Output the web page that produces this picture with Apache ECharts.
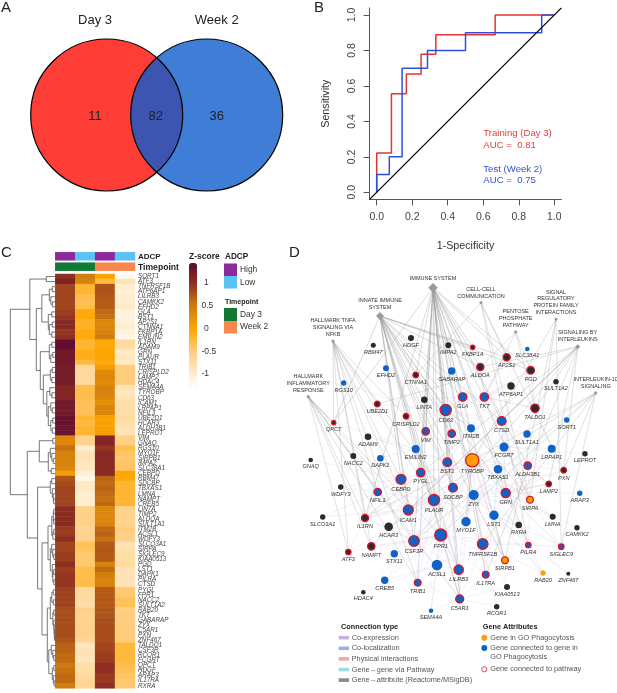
<!DOCTYPE html>
<html><head><meta charset="utf-8">
<style>html,body{margin:0;padding:0;background:#fff}#c{width:617px;height:693px}</style>
<script src="https://cdn.jsdelivr.net/npm/echarts@6/dist/echarts.min.js"></script>
</head><body><div id="c"></div>
<script>
/* ---------- A: Venn ---------- */
const vennSets = ['Day 3', 'Week 2'];
const vennCounts = [11, 82, 36];
/* ---------- B: ROC ---------- */
const rocTicks = [0, 0.2, 0.4, 0.6, 0.8, 1];
const rocRedX = [0, 0, 0.083, 0.083, 0.167, 0.167, 0.25, 0.25, 0.333, 0.333, 0.667, 0.667, 1];
const rocRedY = [0, 0.222, 0.222, 0.556, 0.556, 0.667, 0.667, 0.778, 0.778, 0.889, 0.889, 1, 1];
const rocBlueX = [0, 0, 0.071, 0.071, 0.143, 0.143, 0.286, 0.286, 0.5, 0.5, 0.929, 0.929, 1];
const rocBlueY = [0, 0.1, 0.1, 0.2, 0.2, 0.7, 0.7, 0.8, 0.8, 0.9, 0.9, 1, 1];
/* ---------- C: heatmap ---------- */
const adcpGroups = ['High', 'Low', 'High', 'Low'];
const timeGroups = ['Day 3', 'Day 3', 'Week 2', 'Week 2'];
const heatGenes = ['SORT1','ATF3','TNFRSF1B','ATP6AP1','LILRB3','CAMKK2','EFHD2','GLA','BST1','AP2S1','CTNNA1','FKBP1A','EMILIN2','IL1RN','ADAM9','GRN','PLAUR','STX11','TRIB1','CRISPLD2','LAMP2','HDAC4','SEMA4A','TYROBP','CD63','ICAM1','LRPAP1','NFIL3','UBE2D1','HCAR3','ALDH3B1','LEPROT','VIM','GNAQ','RGS10','MYO1F','SIRPB1','IMPA2','SLC38A1','CEBPD','RBM47','SDCBP','TBXAS1','LMNA','NAMPT','CREB5','LIN7A','TIMP2','ALDOA','SULT1A1','ITM2B','ACSL1','WDFY3','SLCO3A1','SIRPA','SIGLEC9','KIAA0513','PGD','LST1','DAPK1','PILRA','CTSD','PYGL','FPR1','NACC2','SULT1A2','RAB20','TKT','GABARAP','ZYX','C5AR1','PXN','ZNF467','TALDO1','CSF3R','RCOR1','FCGRT','QPCT','HDGF','ARAP3','IL17RA','RXRA'];
const zDay3High = [1,1.15,.85,.85,.85,.85,.85,.9,.95,1.05,1.05,.95,1,1.4,1.4,1.25,1.25,1.25,1.2,1.2,1.2,1.2,1.1,1.1,1.1,1.25,1.25,1.25,1.35,1.35,1.3,1.3,.35,.35,.55,.4,.4,.4,.35,.1,.75,.8,.85,.85,.85,.85,1.03,1.03,1.03,1.03,.9,.9,1,.85,.85,.9,.9,1.02,.9,.95,.95,.95,.88,.88,.88,.88,.8,.8,.8,.8,.8,.8,.75,.65,.65,.6,.6,.5,.55,.6,.6,.45];
const zDay3Low = [.45,.4,-.2,-.2,-.3,-.35,-.3,-.05,-.02,-.15,-.15,-.05,-.05,-.2,-.2,-.1,-.1,-.25,-.7,-.7,-.7,-.7,-.3,-.3,-.3,-.35,-.35,-.35,-.2,-.25,-.2,-.2,-.6,-.6,-1,-.85,-.85,-.9,-.9,-1.05,-1.15,-.95,-.95,-1,-1,-1,-.55,-.55,-.55,-.55,-.65,-.6,-.6,-.35,-.4,-.45,-.45,-.45,-.3,-.3,-.3,-.3,-.7,-.7,-.7,-.75,-.55,-.6,-.6,-.6,-.6,-.6,-.65,-.9,-.85,-.85,-.9,-.75,-.75,-.7,-.65,-.65];
const zWeek2High = [0,-.25,.75,.75,.72,.7,.7,.6,.55,.35,.35,.4,.45,-.05,-.05,0,0,-.05,.1,.3,.35,.3,.4,.4,.35,.25,.4,.35,.05,.05,.05,.1,1.1,1.1,.95,1.05,1.05,1.05,1.05,1.05,.65,.6,.65,.6,.55,.6,.35,.35,.35,.4,.6,.65,.55,.7,.72,.7,.7,.4,.6,.45,.4,.4,.7,.7,.72,.72,.75,.75,.8,.8,.8,.8,.8,.85,.85,.9,.9,1,1,.92,.92,1];
const zWeek2Low = [-1.2,-.85,-1,-1.05,-1,-1,-.95,-1.1,-1.1,-1.05,-1,-1.1,-1.15,-.7,-.75,-.95,-.9,-.95,-.5,-.5,-.5,-.5,-.85,-.9,-.85,-.75,-.75,-.75,-.7,-.75,-.85,-.85,-.55,-.55,-.3,-.4,-.45,-.4,-.4,0,-.05,-.2,-.2,-.2,-.2,-.2,-.6,-.6,-.6,-.6,-.5,-.55,-.55,-.85,-.8,-.75,-.75,-.7,-.85,-.85,-.85,-.85,-.45,-.45,-.35,-.35,-.55,-.5,-.5,-.5,-.5,-.5,-.5,-.25,-.25,-.25,-.25,-.3,-.35,-.4,-.45,-.45];
const zScaleStops = [-1.28, -1, -.5, 0, .5, 1, 1.43];
const zScaleColors = ['#ffffff', '#ffedcf', '#ffcd7c', '#ffa500', '#cc7a10', '#8e2e22', '#5e0b30'];
const zScaleTicks = [1, .5, 0, -.5, -1];
/* dendrogram: [merge height, child, child]; 1 = next row */
const dendroTree = [45,
 [25.5,[9,1,1],
  [19,
   [13.5,[6,[3,1,1],[4.5,1,[3,1,1]]],[7,[3.5,1,1],[6,[3,1,1],[3.5,1,1]]]],
   [15,[6,[3.5,1,1],[4.5,[2.5,1,1],1]],
    [12,[5,[3,1,1],[3.5,1,1]],
     [8.5,[5.5,1,[3.5,1,1]],[7,[4.5,1,[3,1,1]],[4.5,[2.5,1,1],[3,1,1]]]]]]]],
 [28,
  [16,[2.5,1,1],[7,[5,1,[3.5,1,[2,1,1]]],[4,1,1]]],
  [17.7,[5,[3.5,1,1],[3,1,[2,1,[1.5,1,1]]]],
   [13.3,
    [7.3,[3.5,[2,[1.5,1,1],[1.5,1,1]],[2.5,[1.5,1,1],1]],
         [5,[3.5,1,[2.5,1,[1.5,1,1]]],[3,1,[2.5,[1.5,1,1],[1.5,1,1]]]]],
    [8,[5,[3.5,[2,1,1],[2,1,1]],[2.5,[1.5,1,1],[1.5,1,[1.2,1,[1,1,[.8,1,1]]]]]],
       [6.5,[4,1,[2.5,1,[1.5,1,1]]],[3,[1.5,1,1],[2,1,[1.2,1,1]]]]]]]]];
/* ---------- D: network ---------- */
const attrNames = ['IMMUNE SYSTEM','INNATE IMMUNE\nSYSTEM','CELL-CELL\nCOMMUNICATION','SIGNAL\nREGULATORY\nPROTEIN FAMILY\nINTERACTIONS','PENTOSE\nPHOSPHATE\nPATHWAY','SIGNALING BY\nINTERLEUKINS','HALLMARK TNFA\nSIGNALING VIA\nNFKB','INTERLEUKIN-10\nSIGNALING','HALLMARK\nINFLAMMATORY\nRESPONSE'];
const attrLayoutX = [433,380,481,556,515.7,577.7,333,595.7,308.3];
const attrLayoutY = [287.7,316,302.7,319.3,332,346.7,341.3,393,396.7];
const attrWeight = [9.5,8,3.8,3.8,3.8,5,4,3.8,4];
const attrMembers = [
 'FKBP1A AP2S1 ALDOA GLA PGD CD63 CTSD VIM TIMP2 TYROBP BST1 PYGL SDCBP GRN PLAUR FPR1 CSF3R TNFRSF1B PILRA LILRB3 IL17RA C5AR1 SIRPA SIRPB1 ALDH3B1 QPCT CTNNA1 IL1RN TRIB1',
 'FKBP1A AP2S1 ALDOA GLA CD63 CTSD VIM TIMP2 TYROBP BST1 PYGL QPCT GRN PLAUR FPR1 CSF3R C5AR1 LILRB3 SIRPA SIRPB1 PGD ICAM1 SDCBP CEBPD',
 'AP2S1 CTNNA1 SIRPA PILRA PXN',
 'SIRPA SIRPB1 TYROBP SIGLEC9',
 'TKT TALDO1 PGD ALDOA',
 'IL1RN CSF3R IL17RA TALDO1 ALDOA UBE2D1 PXN LAMP2 CTSD ICAM1 NAMPT',
 'ATF3 NAMPT IL1RN CEBPD PLAUR ICAM1 NFIL3 TRIB1 TNFRSF1B UBE2D1 CRISPLD2 QPCT',
 'IL1RN CSF3R FPR1 ICAM1 PXN SIGLEC9 TNFRSF1B',
 'ATF3 NAMPT IL1RN ICAM1 FPR1 C5AR1 CSF3R TRIB1 NFIL3 QPCT'
];
const geneNames = ['RBM47','HDGF','IMPA2','FKBP1A','AP2S1','SLC38A1','EFHD2','ALDOA','GABARAP','PGD','CTNNA1','RGS10','SULT1A2','ATP6AP1','GLA','TKT','UBE2D1','LIN7A','TALDO1','CD63','CRISPLD2','QPCT','SORT1','CTSD','ITM2B','VIM','TIMP2','SULT1A1','ADAM9','EMILIN2','FCGRT','LRPAP1','LEPROT','GNAQ','NACC2','DAPK1','TYROBP','BST1','ALDH3B1','TBXAS1','PXN','PYGL','CEBPD','LAMP2','WDFY3','SDCBP','ZYX','NFIL3','GRN','ARAP3','SIRPA','PLAUR','ICAM1','LST1','SLCO3A1','IL1RN','MYO1F','LMNA','RXRA','HCAR3','CAMKK2','FPR1','CSF3R','TNFRSF1B','PILRA','SIGLEC9','NAMPT','ATF3','STX11','SIRPB1','ACSL1','LILRB3','IL17RA','RAB20','ZNF467','CREB5','TRIB1','KIAA0513','HDAC4','C5AR1','RCOR1','SEMA4A'];
const geneLayoutX = [373.3,411,448.3,472.7,506.7,527.3,386,480.3,451.7,530.7,415.7,343.7,556,511,462.7,484.3,377.3,424.3,535,445.7,406,333.7,566.7,501.7,471,425.7,451.7,527,368,415.7,504,551.7,585,310.7,353.3,380.3,472.3,447.3,527.7,498,563.7,420.7,401,548.7,340.7,453,473.7,377.7,505.7,579.7,530,434,408.3,494,322.7,365,466,552.7,518.7,388.7,577,440.7,414,482.7,528.3,561.3,371.3,348.3,394.3,505,437,458.7,485.7,543,568.3,384.7,417.7,507,363.3,459.7,496.7,431];
const geneLayoutY = [345.3,338,345.3,347.3,357.3,349,368.3,367,371,370.3,375,383,381.7,386,397,397,404,399.7,408.3,410,416.3,422.7,420,421,428.3,431.3,433.7,434,436.7,449,447,448.7,453.7,460,456,458.3,460.3,462.3,465.7,469.3,470.3,472.7,479.3,484,487,487.7,495,492,493,493.3,499.7,500,510,515.3,517,518,521.7,516.7,525,526.7,527.7,535,541,544,545,546.7,546.3,552,553.7,560.3,565,569.7,574.7,573,573.7,580.3,582.7,587,592.3,599,606.7,610.7];
const geneWeight = [2.5,3,3,2.2,3.6,2.3,3,3.6,3.7,3.8,2.8,2.7,2.7,3.7,4.2,4.2,2.8,3.3,4.2,5.6,2.8,2.2,2.7,4.4,4,3.7,3.7,3.7,3.3,4,4.5,4,2.7,2.3,3,3.3,6.6,4.4,3.7,4.3,2.8,4.2,5,2.8,2.7,4.4,5,3.7,4.6,2.7,3.4,5.6,5,4.7,2.7,3.6,4.7,3,3.3,4.3,2.7,6,5.3,5.3,2.7,2.7,3.7,2.7,3.7,3.4,5.3,4.7,3.4,2.7,2,3.7,3.4,3,2.3,4,2.7,2.3];
const geneClass = ['k','k','k','rk','rk','b','b','rk','b','rk','rk','b','k','k','rb','rb','rk','k','rk','rb','rk','rk','b','rb','b','rb','rb','b','k','b','b','b','k','k','k','b','ro','rb','rb','b','rk','rb','rb','rk','k','rb','b','rb','rb','b','ro','rb','rb','b','k','rk','b','k','k','k','k','rb','rb','rb','rb','rb','rk','rk','b','ro','b','rb','rb','o','k','b','rb','k','k','rb','k','b'];
const coexpressHubs = {
 TYROBP:'CD63 BST1 FCGRT TBXAS1 PLAUR SDCBP ZYX GRN SIRPA LST1 MYO1F FPR1 TNFRSF1B ACSL1 C5AR1 LILRB3 CTSD ALDH3B1 PYGL CEBPD ICAM1 CSF3R SIRPB1 TIMP2 ITM2B VIM',
 PLAUR:'ICAM1 CEBPD NFIL3 IL1RN FPR1 CSF3R ZYX SDCBP BST1 PYGL ACSL1 LILRB3 TNFRSF1B NAMPT HCAR3 STX11 TRIB1 ATF3 MYO1F LST1 DAPK1 EMILIN2',
 FPR1:'CSF3R TNFRSF1B ACSL1 LILRB3 C5AR1 IL17RA ZYX MYO1F LST1 SDCBP CEBPD ICAM1 HCAR3 NAMPT PILRA SIRPB1 TRIB1 CREB5 STX11 SEMA4A',
 ZYX:'GRN LST1 MYO1F TBXAS1 FCGRT SIRPA RXRA PILRA SIGLEC9 LAMP2 ALDH3B1 LRPAP1 SDCBP TNFRSF1B IL17RA RAB20 LMNA',
 CD63:'GLA TKT VIM TIMP2 ITM2B BST1 CTSD ALDOA GABARAP LIN7A CTNNA1 EMILIN2 CRISPLD2 UBE2D1 SULT1A1 FCGRT',
 FCGRT:'CTSD SULT1A1 LRPAP1 GRN ALDH3B1 TBXAS1 TALDO1 ATP6AP1 PGD TKT SIRPA PXN LAMP2 LEPROT',
 GRN:'SIRPA LAMP2 LMNA RXRA PILRA LST1 ALDH3B1 LRPAP1 ARAP3 SIGLEC9 CAMKK2 PXN',
 LST1:'TNFRSF1B RXRA PILRA SIRPB1 SIGLEC9 IL17RA RAB20 KIAA0513 ZNF467',
 TNFRSF1B:'IL17RA SIRPB1 LILRB3 C5AR1 KIAA0513 RCOR1 PILRA ACSL1 RAB20',
 CSF3R:'NAMPT ATF3 STX11 CREB5 TRIB1 HCAR3 ACSL1 LILRB3 HDAC4 IL1RN',
 ICAM1:'NFIL3 CEBPD IL1RN SLCO3A1 WDFY3 DAPK1 HCAR3 NACC2',
 CEBPD:'NFIL3 DAPK1 PYGL EMILIN2 ADAM9 NACC2 WDFY3 GNAQ',
 BST1:'VIM TIMP2 PYGL ITM2B EMILIN2 SDCBP ADAM9 CRISPLD2',
 TKT:'GLA ALDOA AP2S1 PGD ATP6AP1 TALDO1 CTSD ITM2B',
 GLA:'GABARAP ALDOA LIN7A TIMP2 VIM ITM2B',
 TALDO1:'PGD SULT1A2 SULT1A1 SORT1 LRPAP1 ATP6AP1',
 ACSL1:'TRIB1 CREB5 SEMA4A C5AR1 LILRB3 HDAC4',
 C5AR1:'LILRB3 IL17RA SEMA4A RCOR1 KIAA0513 TRIB1',
 EMILIN2:'DAPK1 CRISPLD2 QPCT ADAM9 UBE2D1 VIM',
 NFIL3:'IL1RN DAPK1 WDFY3 SLCO3A1 ATF3',
 SIRPA:'SIGLEC9 PILRA LMNA RXRA LAMP2 ALDH3B1',
 ALDH3B1:'LAMP2 PXN LRPAP1 SULT1A1',
 PILRA:'SIGLEC9 RAB20 SIRPB1 ZNF467',
 GABARAP:'IMPA2 FKBP1A HDGF ATP6AP1',
 SDCBP:'TIMP2 VIM MYO1F PYGL',
 ITM2B:'SLC38A1 RGS10 EFHD2 MYO1F'
};
const physicalLinks = 'TYROBP-SIRPB1 TYROBP-SIRPA TALDO1-TKT PGD-TKT SDCBP-PLAUR CD63-TIMP2 LILRB3-C5AR1 ICAM1-PLAUR ALDOA-TKT GRN-LAMP2 FPR1-C5AR1 PXN-ZYX';
const colocLinks = 'FPR1-LILRB3 CSF3R-FPR1 CD63-LAMP2 TBXAS1-LST1 MYO1F-TYROBP GLA-CTSD';
const pathwayLinks = 'TYROBP-SIGLEC9 TYROBP-PILRA CSF3R-IL1RN PGD-TALDO1 GRN-CTSD';
const legendConnection = ['Co-expression','Co-localization','Physical interactions','Gene\u2194gene via Pathway','Gene\u2194attribute (Reactome/MSigDB)'];

/* ---------- styles & helpers ---------- */
const FONT = '"Liberation Sans", Arial, sans-serif';
const adcpColor = {High:'#8c2a9c', Low:'#5bc2f6'};
const timeColor = {'Day 3':'#107a35', 'Week 2':'#f7874a'};
const hex = c => [1,3,5].map(i => parseInt(c.substr(i,2),16));
function zColor(z){
  let i = 0; while(i < zScaleStops.length-2 && z > zScaleStops[i+1]) i++;
  const t = (z-zScaleStops[i])/(zScaleStops[i+1]-zScaleStops[i]);
  const a = hex(zScaleColors[i]), b = hex(zScaleColors[i+1]);
  return 'rgb('+a.map((v,k)=>Math.round(v+(b[k]-v)*t)).join(',')+')';
}
const zMin = zScaleStops[0], zMax = zScaleStops[zScaleStops.length-1];
const zRamp = []; for(let i=0;i<=54;i++) zRamp.push(zColor(zMin+(zMax-zMin)*i/54));

const txt = (x,y,text,o={}) => ({type:'text',x,y,silent:true,style:Object.assign({text,fontFamily:FONT,fontSize:8.5,fill:'#333',align:'left',verticalAlign:'middle'},o)});
const graphics = [
 txt(1,8,'A',{fontSize:15,fill:'#222'}), txt(314,8,'B',{fontSize:15,fill:'#222'}),
 txt(1,253,'C',{fontSize:15,fill:'#222'}), txt(289,253,'D',{fontSize:15,fill:'#222'}),
 txt(95,20,vennSets[0],{fontSize:13,align:'center',fill:'#222'}), txt(216.7,20,vennSets[1],{fontSize:13,align:'center',fill:'#222'}),
 txt(483.3,133.7,'Training (Day 3)',{fontSize:9.6,fill:'#e5413a'}), txt(483.3,145,'AUC =  0.81',{fontSize:9.6,fill:'#e5413a'}),
 txt(483.3,169,'Test (Week 2)',{fontSize:9.6,fill:'#2f55d4'}), txt(483.3,180.3,'AUC =  0.75',{fontSize:9.6,fill:'#2f55d4'}),
 txt(138,256.7,'ADCP',{fontWeight:'bold',fontSize:8,fill:'#222'}), txt(138,267.3,'Timepoint',{fontWeight:'bold',fontSize:8.6,fill:'#222'}),
 txt(189,257,'Z-score',{fontWeight:'bold',fill:'#222'}), txt(225,257,'ADCP',{fontWeight:'bold',fontSize:8.2,fill:'#222'}),
 txt(225,302,'Timepoint',{fontWeight:'bold',fontSize:7,fill:'#222'}),
 txt(240,269.7,adcpGroups[0],{fontSize:8.4}), txt(240,282.7,adcpGroups[1],{fontSize:8.4}),
 txt(240,315,timeGroups[0],{fontSize:8.4}), txt(240,327,timeGroups[2],{fontSize:8.4}),
 {type:'rect',shape:{x:224,y:263.5,width:13,height:12.5},style:{fill:adcpColor.High}},
 {type:'rect',shape:{x:224,y:276,width:13,height:12.5},style:{fill:adcpColor.Low}},
 {type:'rect',shape:{x:224,y:308,width:13,height:13},style:{fill:timeColor['Day 3']}},
 {type:'rect',shape:{x:224,y:321,width:13,height:12.5},style:{fill:timeColor['Week 2']}},
 txt(341,627.3,'Connection type',{fontWeight:'bold',fontSize:7.3,fill:'#222'}),
 txt(482.7,627.3,'Gene Attributes',{fontWeight:'bold',fontSize:7.3,fill:'#222'}),
 txt(490.3,637.7,'Gene in GO Phagocytosis',{fontSize:7.3,fill:'#555'}),
 txt(490.3,648.3,'Gene connected to gene in',{fontSize:7.3,fill:'#555'}),
 txt(490.3,657,'GO Phagocytosis',{fontSize:7.3,fill:'#555'}),
 txt(490.3,669.3,'Gene connected to pathway',{fontSize:7.3,fill:'#555'}),
 {type:'circle',shape:{cx:484.3,cy:637.7,r:3},style:{fill:'#f5a11a'}},
 {type:'circle',shape:{cx:484.3,cy:648,r:3},style:{fill:'#0f62c6'}},
 {type:'circle',shape:{cx:484.3,cy:669.3,r:2.6},style:{fill:'#fff',stroke:'#d8344a',lineWidth:.9}}
];
zScaleTicks.forEach(t => {
  const y = 328.3 - t*45.8;
  graphics.push(txt(Number.isInteger(t) && t>=0 ? 204 : 201.5, y, String(t), {fontSize:8.5}));
});
const swatch = ['#c9b3dc','#9fb0dc','#efa6a6','#9fdde0','#8a8a8a'];
legendConnection.forEach((name,i) => {
  const y = 637.7 + i*10.6;
  graphics.push({type:'rect',shape:{x:338.7,y:y-1.8,width:10.3,height:3.6},style:{fill:swatch[i]}});
  graphics.push(txt(351.7,y,name,{fontSize:7.3,fill:'#555'}));
});

/* dendrogram segments from the merge tree */
let rowCounter = 0; const dendroLines = [];
(function walk(n){
  if(n===1){ const y = rowCounter + .5; rowCounter++; return {h:0,y}; }
  const a = walk(n[1]), b = walk(n[2]);
  dendroLines.push({coords:[[a.h,a.y],[n[0],a.y],[n[0],b.y],[b.h,b.y]]});
  return {h:n[0],y:(a.y+b.y)/2};
})(dendroTree);

/* network */
const classStyle = {
 k:{color:'#2b2b2b'}, b:{color:'#0f62c6'}, o:{color:'#f5a11a'},
 rk:{color:'#2b2b2b',borderColor:'#d8152a',borderWidth:1.3},
 rb:{color:'#0f62c6',borderColor:'#d8152a',borderWidth:1.3},
 ro:{color:'#ffa000',borderColor:'#d8152a',borderWidth:1.3}
};
const nodes = [];
attrNames.forEach((n,i) => nodes.push({name:n,value:[attrLayoutX[i],attrLayoutY[i]],symbol:'diamond',symbolSize:attrWeight[i],
  itemStyle:{color:'#9a9a9a'},
  label:{show:true,position:'top',distance:1.2,fontSize:5.5,lineHeight:6.9,color:'#333',align:'center',formatter:'{b}'}}));
geneNames.forEach((n,i) => nodes.push({name:n,value:[geneLayoutX[i],geneLayoutY[i]],symbol:'circle',symbolSize:geneWeight[i]*2,
  itemStyle:classStyle[geneClass[i]],
  label:{show:true,position:'bottom',distance:1.3,fontSize:5.6,fontStyle:'italic',color:'#333',formatter:'{b}'}}));
const links = [];
const known = new Set(geneNames);
const addLink = (s,t,color,width,opacity) => { if(known.has(s)&&known.has(t)) links.push({source:s,target:t,lineStyle:{color,width,opacity,curveness:0}}); };
Object.keys(coexpressHubs).forEach(h => coexpressHubs[h].split(' ').forEach(t => addLink(h,t,'#c3aedb',.45,.38)));
physicalLinks.split(' ').forEach(p => {const [a,b]=p.split('-'); addLink(a,b,'#ef9fa8',.5,.45);});
colocLinks.split(' ').forEach(p => {const [a,b]=p.split('-'); addLink(a,b,'#93a9dc',.5,.45);});
pathwayLinks.split(' ').forEach(p => {const [a,b]=p.split('-'); addLink(a,b,'#93d9dd',.5,.45);});
attrMembers.forEach((m,i) => m.split(' ').forEach(g => { if(known.has(g)) links.push({source:attrNames[i],target:g,lineStyle:{color:'#9a9a9a',width:i<2?.65:.55,opacity:.55,curveness:0}}); }));

/* venn drawn on the page-unit axes */
const vennGeom = {cx1:106.7, cx2:206.7, cy:115, r:76};
function renderVenn(params, api){
  const c1 = api.coord([vennGeom.cx1,vennGeom.cy]), c2 = api.coord([vennGeom.cx2,vennGeom.cy]);
  const r = api.size([vennGeom.r,0])[0];
  const d = (c2[0]-c1[0])/2, a = Math.acos(d/r), pts = [];
  for(let i=0;i<=40;i++){ const t=-a+2*a*i/40; pts.push([c1[0]+r*Math.cos(t),c1[1]+r*Math.sin(t)]); }
  for(let i=0;i<=40;i++){ const t=Math.PI-a+2*a*i/40; pts.push([c2[0]+r*Math.cos(t),c2[1]+r*Math.sin(t)]); }
  const mid = (c1[0]+c2[0])/2;
  const num = (x,t) => ({type:'text',x,y:c1[1]+1,style:{text:String(t),fontFamily:FONT,fontSize:13,fill:'#222',align:'center',verticalAlign:'middle'}});
  return {type:'group',children:[
    {type:'circle',shape:{cx:c1[0],cy:c1[1],r},style:{fill:'#ff3d37'}},
    {type:'circle',shape:{cx:c2[0],cy:c2[1],r},style:{fill:'#3f7dd6'}},
    {type:'polygon',shape:{points:pts},style:{fill:'#3c55b0'}},
    {type:'circle',shape:{cx:c1[0],cy:c1[1],r},style:{fill:'none',stroke:'#000',lineWidth:1.2}},
    {type:'circle',shape:{cx:c2[0],cy:c2[1],r},style:{fill:'none',stroke:'#000',lineWidth:1.2}},
    num(95,vennCounts[0]), num(mid-1,vennCounts[1]), num(216.7,vennCounts[2])
  ]};
}
const zip = (a,b) => a.map((v,i)=>[v,b[i]]);
const heatData = [];
[zDay3High,zDay3Low,zWeek2High,zWeek2Low].forEach((col,c)=>col.forEach((v,r)=>heatData.push([c,r,v])));
const colLabels = ['c1','c2','c3','c4'];
const axisColor = '#555';
const tick1 = v => v.toFixed(1);

const option = {
 animation:false, backgroundColor:'#fff', textStyle:{fontFamily:FONT},
 graphic:{elements:graphics},
 grid:[
  {left:0,top:0,width:617,height:693},
  {left:369.6,top:7.9,width:191.8,height:191.5},
  {left:55.3,top:274,width:79.7,height:414.3},
  {left:55.3,top:252.3,width:79.7,height:8},
  {left:55.3,top:262.7,width:79.7,height:8},
  {left:10,top:274,width:45.3,height:414.3}
 ],
 xAxis:[
  {gridIndex:0,type:'value',min:0,max:617,show:false},
  {gridIndex:1,type:'value',min:-.04,max:1.04,name:'1-Specificity',nameLocation:'middle',nameGap:41,
   nameTextStyle:{fontSize:10.7,color:'#333',fontFamily:FONT},splitLine:{show:false},
   axisLine:{onZero:false,lineStyle:{color:axisColor,width:1}},axisTick:{customValues:rocTicks,length:6,lineStyle:{color:axisColor}},
   axisLabel:{customValues:rocTicks,formatter:tick1,fontSize:10.5,color:'#444',margin:12}},
  {gridIndex:2,type:'category',data:colLabels,show:false},
  {gridIndex:3,type:'category',data:colLabels,show:false},
  {gridIndex:4,type:'category',data:colLabels,show:false},
  {gridIndex:5,type:'value',min:0,max:45.3,inverse:true,show:false}
 ],
 yAxis:[
  {gridIndex:0,type:'value',min:0,max:693,inverse:true,show:false},
  {gridIndex:1,type:'value',min:-.04,max:1.04,name:'Sensitivity',nameLocation:'middle',nameGap:38,
   nameTextStyle:{fontSize:10.7,color:'#333',fontFamily:FONT},splitLine:{show:false},
   axisLine:{onZero:false,lineStyle:{color:axisColor,width:1}},axisTick:{customValues:rocTicks,length:6,lineStyle:{color:axisColor}},
   axisLabel:{customValues:rocTicks,formatter:tick1,fontSize:10.5,color:'#444',rotate:90,margin:12}},
  {gridIndex:2,type:'category',data:heatGenes,inverse:true,position:'right',
   axisLine:{show:false},axisTick:{show:false},splitLine:{show:false},
   axisLabel:{interval:0,fontSize:6.3,fontStyle:'italic',color:'#444',margin:3,hideOverlap:false}},
  {gridIndex:3,type:'category',data:['ADCP'],show:false},
  {gridIndex:4,type:'category',data:['Timepoint'],show:false},
  {gridIndex:5,type:'value',min:0,max:82,inverse:true,show:false}
 ],
 visualMap:[{type:'continuous',seriesIndex:[2],min:zMin,max:zMax,inRange:{color:zRamp},left:189,top:263,itemWidth:8,itemHeight:124,padding:0,calculable:false,showLabel:false,text:null,hoverLink:false,realtime:false}],
 series:[
  {type:'custom',name:'venn',coordinateSystem:'cartesian2d',xAxisIndex:0,yAxisIndex:0,clip:false,silent:true,renderItem:renderVenn,data:[vennCounts]},
  {type:'graph',name:'network',coordinateSystem:'cartesian2d',xAxisIndex:0,yAxisIndex:0,layout:'none',roam:false,silent:true,data:nodes,links:links,edgeSymbol:['none','none'],z:3},
  {type:'heatmap',name:'z',xAxisIndex:2,yAxisIndex:2,data:heatData,silent:true,progressive:0},
  {type:'heatmap',name:'adcp',xAxisIndex:3,yAxisIndex:3,silent:true,data:adcpGroups.map((g,i)=>({value:[i,0,1],itemStyle:{color:adcpColor[g]}}))},
  {type:'heatmap',name:'time',xAxisIndex:4,yAxisIndex:4,silent:true,data:timeGroups.map((g,i)=>({value:[i,0,1],itemStyle:{color:timeColor[g]}}))},
  {type:'lines',name:'dendro',coordinateSystem:'cartesian2d',xAxisIndex:5,yAxisIndex:5,polyline:true,silent:true,lineStyle:{color:'#555',width:.8,opacity:1},data:dendroLines},
  {type:'line',name:'training',xAxisIndex:1,yAxisIndex:1,showSymbol:false,silent:true,data:zip(rocRedX,rocRedY),lineStyle:{color:'#e5342e',width:1.5}},
  {type:'line',name:'test',xAxisIndex:1,yAxisIndex:1,showSymbol:false,silent:true,data:zip(rocBlueX,rocBlueY),lineStyle:{color:'#2e50d8',width:1.5}},
  {type:'line',name:'chance',xAxisIndex:1,yAxisIndex:1,showSymbol:false,silent:true,data:[[-.04,-.04],[1.04,1.04]],lineStyle:{color:'#000',width:1.3}}
 ]
};
echarts.init(document.getElementById('c'),null,{renderer:'canvas'}).setOption(option);
</script></body></html>
